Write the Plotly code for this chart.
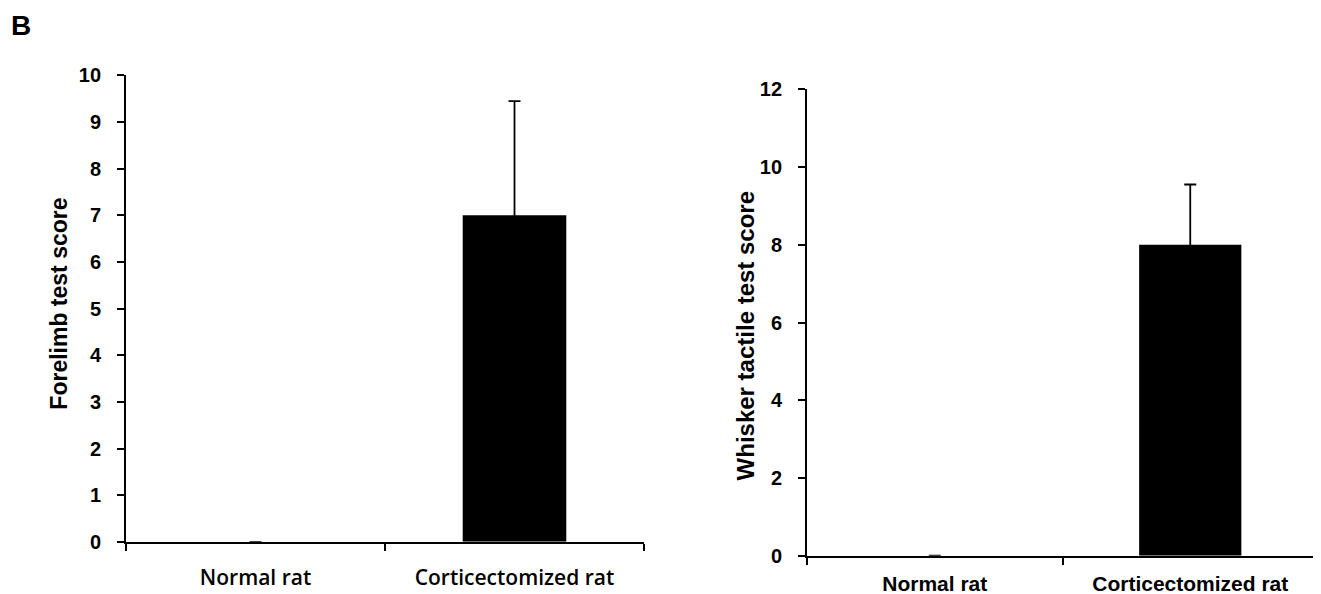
import plotly.graph_objects as go

categories = ["Normal rat", "Corticectomized rat"]
forelimb_scores = [0, 7.0]
forelimb_err = [0, 2.45]
whisker_scores = [0, 8.0]
whisker_err = [0, 1.55]
forelimb_ticks = list(range(0, 11))
whisker_ticks = list(range(0, 13, 2))

W, H = 1321, 594


def fx(px):
    return (px - 8) / W


def fy(py):
    return (592.5 - py) / 576.3


def upper(errs):
    return [e if e > 0 else float("nan") for e in errs]


def lower(vals, errs):
    # lower whisker ends hidden inside the black bar, so no cap shows
    return [v / 2 if e > 0 else float("nan") for v, e in zip(vals, errs)]


fig = go.Figure()

fig.add_trace(go.Bar(
    x=categories, y=forelimb_scores, xaxis="x", yaxis="y",
    marker=dict(color="black", line=dict(width=0)), width=0.4,
    error_y=dict(type="data", symmetric=False, array=upper(forelimb_err),
                 arrayminus=lower(forelimb_scores, forelimb_err),
                 color="black", thickness=1.8, width=6),
    showlegend=False))
fig.add_trace(go.Bar(
    x=categories, y=whisker_scores, xaxis="x2", yaxis="y2",
    marker=dict(color="black", line=dict(width=0)), width=0.4,
    error_y=dict(type="data", symmetric=False, array=upper(whisker_err),
                 arrayminus=lower(whisker_scores, whisker_err),
                 color="black", thickness=1.8, width=6),
    showlegend=False))

arial_b = "Liberation Sans, Arial"
tickfont_b = dict(family=arial_b, size=20, color="black", weight="bold")
axcommon = dict(showline=True, linecolor="black", linewidth=1.8, ticks="outside",
                ticklen=7, tickwidth=1.5, tickcolor="black", showgrid=False,
                zeroline=False, fixedrange=True)

fig.update_layout(
    width=W, height=H,
    margin=dict(l=0, r=0, t=0, b=0),
    paper_bgcolor="white", plot_bgcolor="white",
    xaxis=dict(domain=[fx(126), fx(644)], anchor="y", type="category",
               tickson="boundaries",
               tickfont=dict(family="Open Sans", size=21, color="black", weight=600),
               ticklabelstandoff=16,
               **axcommon),
    yaxis=dict(domain=[fy(543), fy(73)], anchor="x", range=[0, 10],
               tickvals=forelimb_ticks, tickfont=tickfont_b, ticklabelstandoff=12,
               **axcommon),
    xaxis2=dict(domain=[fx(807), fx(1318)], anchor="y2", type="category",
                tickson="boundaries",
                tickfont=dict(family=arial_b, size=21, color="black", weight="bold"),
                ticklabelstandoff=8,
                **axcommon),
    yaxis2=dict(domain=[fy(557), fy(87)], anchor="x2", range=[0, 12],
                tickvals=whisker_ticks, tickfont=tickfont_b, ticklabelstandoff=12,
                **axcommon),
    annotations=[
        dict(text="B", x=fx(9), y=fy(23), xref="paper", yref="paper",
             xanchor="left", yanchor="middle", showarrow=False,
             font=dict(family=arial_b, size=28, color="black", weight="bold")),
        dict(text="Forelimb test score", x=fx(59), y=fy(303), xref="paper", yref="paper",
             textangle=-90, showarrow=False, xanchor="center", yanchor="middle",
             font=dict(family=arial_b, size=23, color="black", weight="bold")),
        dict(text="Whisker tactile test score", x=fx(745), y=fy(336), xref="paper", yref="paper",
             textangle=-90, showarrow=False, xanchor="center", yanchor="middle",
             font=dict(family=arial_b, size=24, color="black", weight="bold")),
    ],
)

fig.write_html("out.html")
